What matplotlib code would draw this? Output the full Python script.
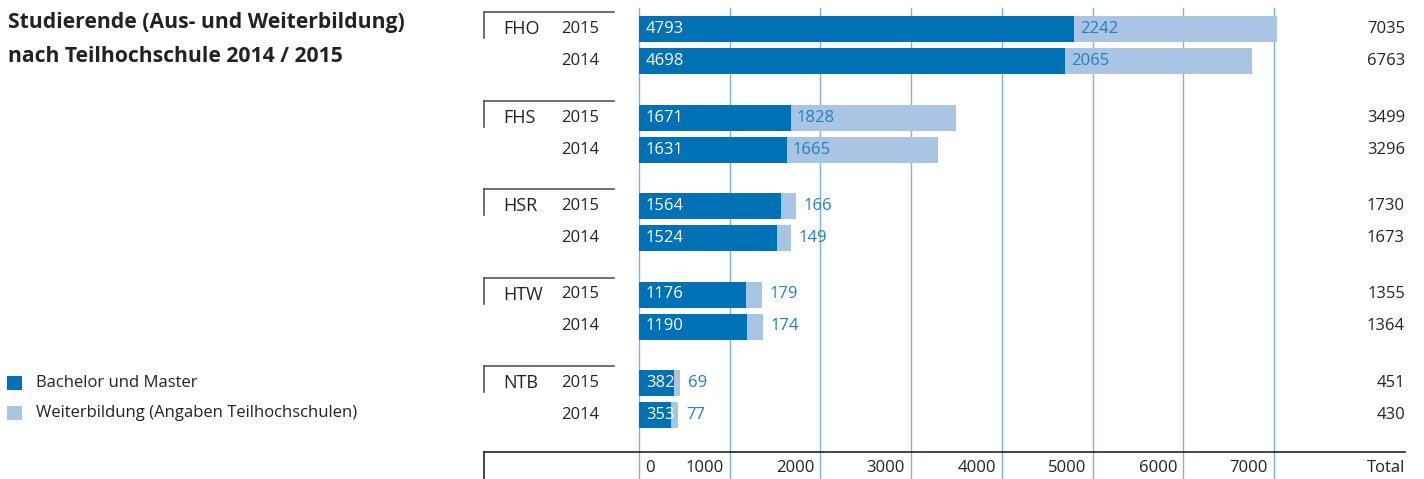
import matplotlib
matplotlib.use("Agg")
from matplotlib import pyplot as plt
from matplotlib.patches import Rectangle

# data
schools = ["FHO", "FHS", "HSR", "HTW", "NTB"]
years = ["2015", "2014"]
bachelor_master = [[4793, 4698], [1671, 1631], [1564, 1524], [1176, 1190], [382, 353]]
weiterbildung = [[2242, 2065], [1828, 1665], [166, 149], [179, 174], [69, 77]]
ticks = [0, 1000, 2000, 3000, 4000, 5000, 6000, 7000]

dark = "#0071b5"
light = "#a9c5e3"
label_blue = "#1f7fc1"
grid_blue = "#7fb0e0"
text_col = "#222222"

plt.rcParams['font.family'] = ['Open Sans', 'DejaVu Sans']

W, H = 1424, 479
fig = plt.figure(figsize=(W / 100, H / 100), dpi=100)

# axes covering the whole figure, x in data units, y in pixels from the top
x0_px = 639.0
scale = 0.0907  # px per student
ax = fig.add_axes([0, 0, 1, 1])
ax.set_xlim(-x0_px / scale, (W - x0_px) / scale)
ax.set_ylim(H, 0)
ax.axis("off")


def px(x):
    # pixel x -> data x
    return (x - x0_px) / scale


fs = 12
bar_h = 26
top = 29
group_step = 88.5
row_step = 32

# grid lines
for t in ticks:
    ax.plot([t, t], [8, H], color=grid_blue, lw=1, zorder=0)
    if t == 0:
        ax.text(t + 6 / scale, 468, "0", ha="left", va="center", fontsize=fs, color=text_col)
    else:
        ax.text(t - 6 / scale, 468, str(t), ha="right", va="center", fontsize=fs, color=text_col)
ax.text(px(1405), 468, "Total", ha="right", va="center", fontsize=fs, color=text_col)

# bottom rule
ax.plot([px(484), px(1405)], [452, 452], color=text_col, lw=1.2)
ax.plot([px(484), px(484)], [452, H], color=text_col, lw=1.2)

for g, school in enumerate(schools):
    gy = top + g * group_step
    # bracket
    ax.plot([px(484), px(614)], [gy - 17, gy - 17], color="#555555", lw=1.2)
    ax.plot([px(484), px(484)], [gy - 17, gy + 9], color="#555555", lw=1.2)
    ax.text(px(503), gy, school, ha="left", va="center", fontsize=fs + 1, color=text_col)
    for k, yr in enumerate(years):
        y = gy + k * row_step
        bm = bachelor_master[g][k]
        wb = weiterbildung[g][k]
        ax.text(px(599), y, yr, ha="right", va="center", fontsize=fs, color=text_col)
        ax.add_patch(Rectangle((0, y - bar_h / 2), bm, bar_h, color=dark, lw=0, zorder=2))
        ax.add_patch(Rectangle((bm, y - bar_h / 2), wb, bar_h, color=light, lw=0, zorder=2))
        ax.text(7 / scale, y, str(bm), ha="left", va="center", fontsize=fs, color="white", zorder=3)
        if wb > 1000:
            ax.text(bm + 6 / scale, y, str(wb), ha="left", va="center", fontsize=fs, color=label_blue, zorder=3)
        else:
            ax.text(bm + wb + 8 / scale, y, str(wb), ha="left", va="center", fontsize=fs, color=label_blue, zorder=3)
        ax.text(px(1405), y, str(bm + wb), ha="right", va="center", fontsize=fs, color=text_col)

# title
ax.text(px(8), 22, "Studierende (Aus- und Weiterbildung)", ha="left", va="center",
        fontsize=15.2, fontweight="bold", color=text_col)
ax.text(px(8), 56, "nach Teilhochschule 2014 / 2015", ha="left", va="center",
        fontsize=15.2, fontweight="bold", color=text_col)

# legend
for i, (lab, col) in enumerate([("Bachelor und Master", dark),
                                 ("Weiterbildung (Angaben Teilhochschulen)", light)]):
    ly = 383 + i * 30
    ax.add_patch(Rectangle((px(7), ly - 7), 15 / scale, 14, color=col, lw=0))
    ax.text(px(36), ly, lab, ha="left", va="center", fontsize=fs, color=text_col)

fig.savefig("out.png", dpi=100)
